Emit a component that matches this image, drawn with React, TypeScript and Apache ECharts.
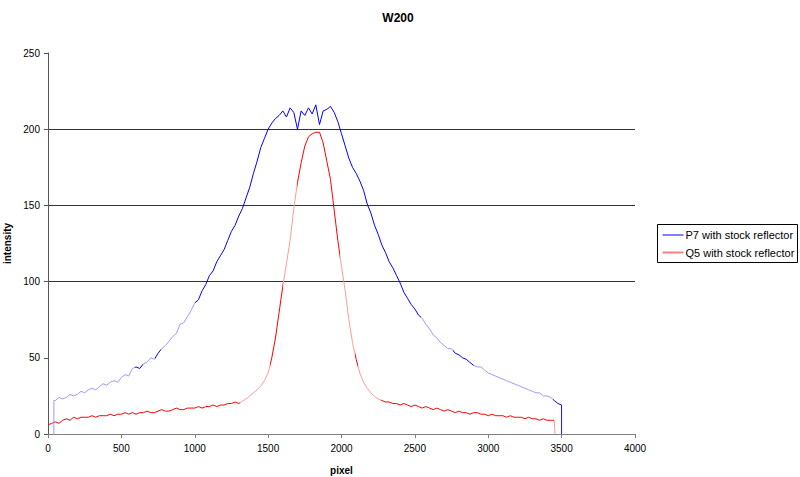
import React, { useEffect, useRef } from "react";
import * as echarts from "echarts";

// ---- data ----
const TITLE = "W200";
const X_NAME = "pixel";
const Y_NAME = "intensity";
const SERIES_NAMES = ["P7 with stock reflector", "Q5 with stock reflector"];

// sampled every 25 pixels
const P7_GRID_START = 50;
const Q5_GRID_START = 0;
const STEP = 25;

const P7_VALUES = [
  22, 24, 23, 24, 26, 25, 26, 28, 27, 29,
  30, 29, 31, 33, 32, 34, 35, 34, 37, 39,
  38, 43, 44, 43, 46, 47, 50, 49, 53, 56,
  58, 61, 64, 66, 72, 73, 77, 81, 86, 88,
  94, 98, 104, 107, 113, 117, 121, 127, 133, 137,
  143, 148, 155, 162, 171, 179, 188, 194, 200, 204,
  207, 209, 212, 208, 214, 211, 200, 212, 209, 214,
  210, 216, 203, 212, 213, 215, 211, 205, 197, 189,
  181, 175, 171, 166, 160, 151, 145, 137, 131, 124,
  119, 113, 109, 104, 99, 93, 89, 85, 82, 78,
  76, 72, 69, 65, 63, 60, 58, 56, 56, 53,
  52, 50, 49, 47, 45, 44, 44, 42, 40, 39,
  38, 37, 36, 35, 34, 33, 32, 31, 30, 29,
  28, 27, 27, 25, 25, 24, 22, 20, 19,
];

const Q5_VALUES = [
  6, 7, 8, 7, 9, 10, 9, 11, 10, 11,
  11, 11, 12, 11, 12, 12, 12, 13, 12, 13,
  13, 14, 13, 14, 13, 14, 14, 15, 14, 14,
  15, 16, 15, 15, 16, 17, 16, 16, 17, 17,
  17, 18, 17, 18, 18, 19, 18, 19, 19, 20,
  20, 21, 20, 21.5, 23, 25, 27, 29, 31.5, 35,
  40, 50, 63, 80, 97, 112, 127, 148, 165, 178,
  189, 195, 197, 198, 198, 191, 179, 167, 147, 127,
  110, 94, 75, 60, 49, 40, 34, 30, 27, 24.5,
  23, 22, 21, 21, 20, 20, 19, 20, 19, 18,
  19, 18, 17, 18, 17, 16, 17, 16, 15, 16,
  15, 14, 15, 14, 14, 13, 14, 14, 13, 13,
  12, 13, 12, 12, 12, 11, 12, 11, 11, 11,
  10, 11, 10, 10, 9, 10, 9, 9, 9,
];

// vertical edges at start / end of the traces
const P7_LEAD = [[40, 0], [40, 22]];
const P7_TAIL = [[3500, 0]];
const Q5_LEAD: number[][] = [];
const Q5_TAIL = [[3455, 0]];

// ranges where the trace appears dark (saturated); elsewhere it looks light
const P7_DARK_RANGES = [[590, 650], [730, 770], [1000, 2540], [2760, 2900], [3440, 3501]];
const Q5_DARK_RANGES = [[0, 1310], [1510, 1600], [1700, 1990], [2090, 2110], [2270, 3450]];

const X_TICKS = { min: 0, max: 4000, interval: 500 };
const Y_TICKS = { min: 0, max: 250, interval: 50 };

const BLUE = "#0000ff";
const LIGHT_BLUE = "#9a9aff";
const RED = "#ff0000";
const LIGHT_RED = "#ff9a9a";
const LEGEND_BLUE = "#8080ff";
const LEGEND_RED = "#ff8080";

function build(start: number, values: number[], lead: number[][], tail: number[][]) {
  const pts = values.map((v, i) => [start + i * STEP, v]);
  return [...lead, ...pts, ...tail];
}

function pieces(ranges: number[][], color: string) {
  return ranges.map(([a, b]) => ({ gte: a, lt: b, color }));
}

export default function App() {
  const ref = useRef<HTMLDivElement>(null);
  useEffect(() => {
    document.body.style.margin = "0";
    if (!ref.current) return;
    const chart = echarts.init(ref.current, null, { renderer: "svg" });
    const font = "'Liberation Sans', Arial, sans-serif";
    chart.setOption({
      animation: false,
      backgroundColor: "#ffffff",
      textStyle: { fontFamily: font },
      title: {
        text: TITLE,
        left: 393,
        top: 7,
        textAlign: "center",
        textStyle: { fontSize: 12, fontWeight: "bold", color: "#000", fontFamily: font },
      },
      grid: {
        left: 48,
        right: 165,
        top: 53,
        bottom: 43,
        containLabel: false,
        outerBoundsMode: "none",
      },
      legend: {
        show: false,
      },
      graphic: [
        {
          type: "group",
          left: 657,
          top: 224,
          children: [
            {
              type: "rect",
              shape: { x: 0, y: 0, width: 140, height: 38 },
              style: { fill: "#fff", stroke: "#000", lineWidth: 1 },
            },
            {
              type: "line",
              shape: { x1: 5, y1: 10.5, x2: 26, y2: 10.5 },
              style: { stroke: LEGEND_BLUE, lineWidth: 2 },
            },
            {
              type: "text",
              x: 28,
              y: 10.5,
              style: {
                text: SERIES_NAMES[0],
                fill: "#000",
                font: `11px ${font}`,
                verticalAlign: "middle",
              },
            },
            {
              type: "line",
              shape: { x1: 5, y1: 28, x2: 26, y2: 28 },
              style: { stroke: LEGEND_RED, lineWidth: 2 },
            },
            {
              type: "text",
              x: 28,
              y: 28,
              style: {
                text: SERIES_NAMES[1],
                fill: "#000",
                font: `11px ${font}`,
                verticalAlign: "middle",
              },
            },
          ],
        },
      ],
      visualMap: [
        {
          type: "piecewise",
          show: false,
          seriesIndex: 0,
          dimension: 0,
          pieces: pieces(P7_DARK_RANGES, BLUE),
          outOfRange: { color: LIGHT_BLUE },
        },
        {
          type: "piecewise",
          show: false,
          seriesIndex: 1,
          dimension: 0,
          pieces: pieces(Q5_DARK_RANGES, RED),
          outOfRange: { color: LIGHT_RED },
        },
      ],
      xAxis: {
        type: "value",
        ...X_TICKS,
        name: X_NAME,
        nameLocation: "middle",
        nameGap: 31,
        nameTextStyle: { fontSize: 10, fontWeight: "bold", color: "#000", fontFamily: font },
        axisLine: { lineStyle: { color: "#808080", width: 1 } },
        axisTick: { show: true, length: 4, lineStyle: { color: "#808080" } },
        axisLabel: {
          fontSize: 10,
          color: "#000",
          margin: 9,
          fontFamily: font,
          formatter: (v: number) => String(v),
        },
        splitLine: { show: false },
      },
      yAxis: {
        type: "value",
        ...Y_TICKS,
        name: Y_NAME,
        nameLocation: "middle",
        nameGap: 36,
        nameTextStyle: { fontSize: 10, fontWeight: "bold", color: "#000", fontFamily: font },
        axisLine: { show: true, lineStyle: { color: "#555", width: 1 } },
        axisTick: { show: true, length: 4, lineStyle: { color: "#555" } },
        axisLabel: { fontSize: 10, color: "#000", margin: 8, fontFamily: font },
        splitLine: {
          show: true,
          lineStyle: {
            color: ["rgba(0,0,0,0)", "rgba(0,0,0,0)", "#333", "#333", "#333", "rgba(0,0,0,0)"],
            width: 1,
          },
        },
      },
      series: [
        {
          name: SERIES_NAMES[0],
          type: "line",
          symbol: "none",
          color: LEGEND_BLUE,
          lineStyle: { width: 1 },
          data: build(P7_GRID_START, P7_VALUES, P7_LEAD, P7_TAIL),
          z: 3,
        },
        {
          name: SERIES_NAMES[1],
          type: "line",
          symbol: "none",
          color: LEGEND_RED,
          lineStyle: { width: 1 },
          data: build(Q5_GRID_START, Q5_VALUES, Q5_LEAD, Q5_TAIL),
          z: 2,
        },
      ],
    });
    return () => chart.dispose();
  }, []);
  return <div ref={ref} style={{ width: 800, height: 477 }} />;
}
